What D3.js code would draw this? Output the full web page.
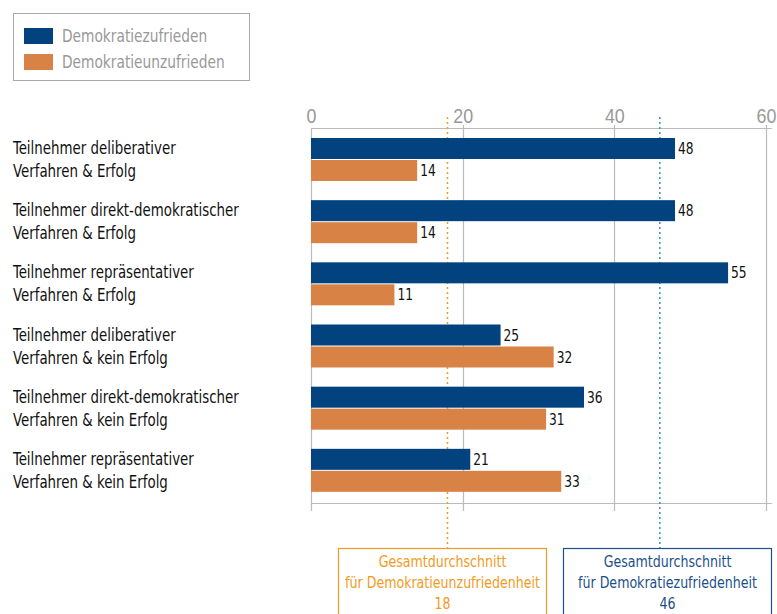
<!DOCTYPE html>
<html>
<head>
<meta charset="utf-8">
<script src="https://cdn.jsdelivr.net/npm/d3@7"></script>
<style>
  body { margin: 0; background: #fff; }
  svg { font-family: "DejaVu Sans Condensed", "Liberation Sans Narrow", sans-serif; }
</style>
</head>
<body>
<svg id="chart" width="777" height="614"></svg>
<script>
const categories = [
    ["Teilnehmer deliberativer", "Verfahren & Erfolg"],
    ["Teilnehmer direkt-demokratischer", "Verfahren & Erfolg"],
    ["Teilnehmer repräsentativer", "Verfahren & Erfolg"],
    ["Teilnehmer deliberativer", "Verfahren & kein Erfolg"],
    ["Teilnehmer direkt-demokratischer", "Verfahren & kein Erfolg"],
    ["Teilnehmer repräsentativer", "Verfahren & kein Erfolg"]
];
const zufrieden = [48, 48, 55, 25, 36, 21];
const unzufrieden = [14, 14, 11, 32, 31, 33];
const seriesNames = ["Demokratiezufrieden", "Demokratieunzufrieden"];
const tickValues = [0, 20, 40, 60];
const averages = [18, 46];
const averageLabels = [
    ["Gesamtdurchschnitt", "für Demokratieunzufriedenheit", "18"],
    ["Gesamtdurchschnitt", "für Demokratiezufriedenheit", "46"]
];

const blue = "#01427f", orange = "#d98246";
const avgText = ["#f29b22", "#1d4f8a"];
const avgLine = ["#f29b22", "#3a8fb0"];
const squeeze = 0.85; // fake a condensed face

let svg = d3.select("#chart");

let x = d3.scaleLinear().domain([0, 60]).range([311, 766]);
let y = d3.scaleBand().domain(d3.range(categories.length)).range([138, 511]);
let barH = 21;

// text drawn horizontally squeezed, positioned by its anchor point
function label(parent, px, py, txt, size, color, anchor) {
    return parent.append("text")
        .attr("transform", `translate(${px},${py}) scale(${squeeze},1)`)
        .attr("text-anchor", anchor || "start")
        .attr("font-size", size).attr("fill", color).text(txt);
}

// legend
let legend = svg.append("g");
legend.append("rect").attr("x", 13.5).attr("y", 13.5).attr("width", 236).attr("height", 67)
    .attr("fill", "none").attr("stroke", "#aaa").attr("stroke-width", 1);
seriesNames.forEach((name, i) => {
    legend.append("rect").attr("x", 24).attr("y", 28 + i * 26).attr("width", 29).attr("height", 16)
        .attr("fill", i === 0 ? blue : orange);
    label(legend, 62, 42 + i * 26, name, 18, "#999");
});

// grid + axis lines
let grid = svg.append("g");
tickValues.forEach(t => {
    grid.append("line").attr("x1", Math.round(x(t)) + 0.5).attr("x2", Math.round(x(t)) + 0.5)
        .attr("y1", t === 0 ? 128 : 125).attr("y2", 511)
        .attr("stroke", "#bbb").attr("stroke-width", 1.2);
});
grid.append("line").attr("x1", x(0)).attr("x2", 772).attr("y1", 128.5).attr("y2", 128.5)
    .attr("stroke", "#bbb").attr("stroke-width", 1.2);
grid.append("line").attr("x1", x(0)).attr("x2", 772).attr("y1", 503.5).attr("y2", 503.5)
    .attr("stroke", "#bbb").attr("stroke-width", 1.2);

let axis = d3.axisTop(x).tickValues(tickValues).tickSize(0).tickPadding(0);
let axisG = svg.append("g").attr("transform", "translate(0,123)").call(axis);
axisG.select(".domain").remove();
axisG.selectAll("text")
    .attr("font-size", 21).attr("fill", "#999").attr("text-anchor", "middle")
    .attr("font-family", null)
    .attr("transform", `scale(${squeeze},1)`);

// average lines
averages.forEach((a, i) => {
    svg.append("line").attr("x1", x(a)).attr("x2", x(a)).attr("y1", 117).attr("y2", 548)
        .attr("stroke", avgLine[i]).attr("stroke-width", 1.5).attr("stroke-dasharray", "2,3");
});

// bars
let groups = svg.append("g").selectAll("g").data(categories).join("g")
    .attr("transform", (d, i) => `translate(0,${y(i)})`);

groups.append("rect").attr("x", x(0)).attr("y", 0).attr("height", barH)
    .attr("width", (d, i) => x(zufrieden[i]) - x(0)).attr("fill", blue);
groups.append("rect").attr("x", x(0)).attr("y", barH + 1).attr("height", barH)
    .attr("width", (d, i) => x(unzufrieden[i]) - x(0)).attr("fill", orange);

groups.each(function(d, i) {
    let g = d3.select(this);
    label(g, x(zufrieden[i]) + 3, 16, zufrieden[i], 16, "#111");
    label(g, x(unzufrieden[i]) + 3, barH + 17, unzufrieden[i], 16, "#111");
    d.forEach((line, j) => label(g, 13, 16 + j * 23, line, 17.5, "#111"));
});

// annotation boxes
let boxX = [338.5, 563.5];
averageLabels.forEach((lines, i) => {
    svg.append("rect").attr("x", boxX[i]).attr("y", 548.5).attr("width", 208).attr("height", 80)
        .attr("fill", "#fff").attr("stroke", avgText[i]).attr("stroke-width", 1.2);
    lines.forEach((t, j) => label(svg, boxX[i] + 104, 567 + j * 21, t, 16.5, avgText[i], "middle"));
});
</script>
</body>
</html>
